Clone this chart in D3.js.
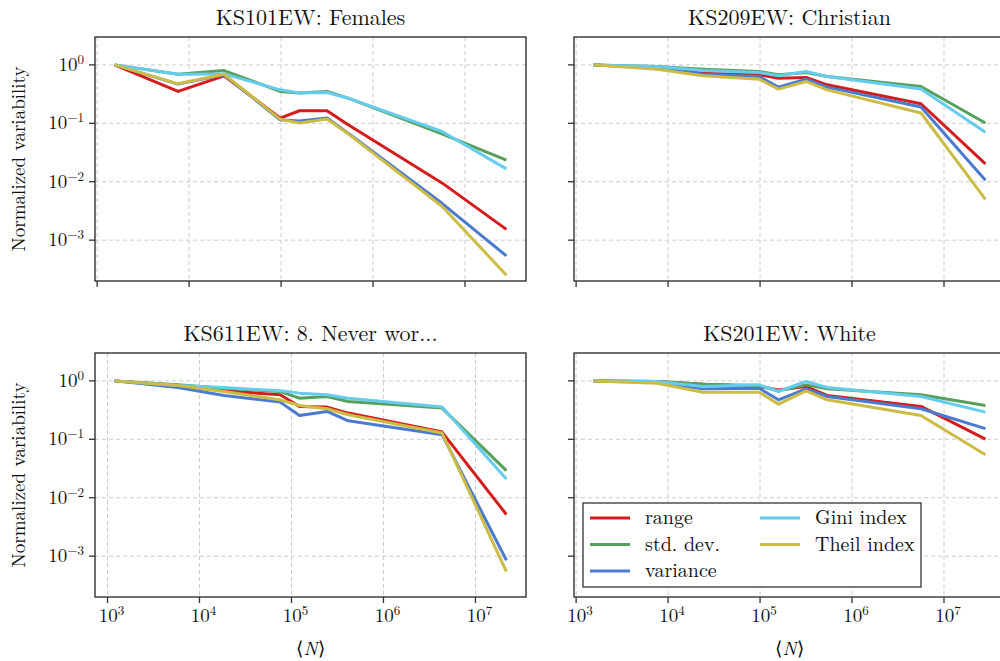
<!DOCTYPE html>
<html>
<head>
<meta charset="utf-8">
<script src="https://cdn.jsdelivr.net/npm/d3@7"></script>
<style>
    body { margin: 0; background: white; }
    text { font-family: "Latin Modern Roman", "CMU Serif", "Liberation Serif", serif; fill: #111; }
</style>
</head>
<body>
<svg id="chart" width="1000" height="661"></svg>
<script>
const SERIES = ["range", "std. dev.", "variance", "Gini index", "Theil index"];
const COLORS = ["#d41c1c", "#55a05a", "#4a7bd0", "#66ccee", "#ccbb44"];

// mean population per area at each aggregation level
const nAreas = [1549, 7586, 23988, 97724, 158489, 316228, 537032, 5.62e6, 2.82e7];
const nAreasKS611 = [1194, 5848, 18493, 75336, 122180, 243781, 414000, 4.34e6, 2.17e7];

const females = [
    [1, 0.351, 0.649, 0.123, 0.164, 0.164, 0.0946, 0.00955, 0.00153],
    [1, 0.692, 0.80, 0.351, 0.329, 0.351, 0.269, 0.066, 0.0234],
    [1, 0.468, 0.676, 0.115, 0.110, 0.123, 0.0676, 0.00427, 0.000537],
    [1, 0.692, 0.70, 0.374, 0.329, 0.337, 0.269, 0.0724, 0.0166],
    [1, 0.474, 0.692, 0.118, 0.101, 0.118, 0.066, 0.0038, 0.000251]
];
const christian = [
    [1, 0.90, 0.721, 0.675, 0.592, 0.608, 0.456, 0.216, 0.0202],
    [1, 0.938, 0.843, 0.769, 0.675, 0.740, 0.631, 0.427, 0.101],
    [1, 0.877, 0.693, 0.631, 0.416, 0.569, 0.416, 0.190, 0.0106],
    [1, 0.938, 0.80, 0.740, 0.649, 0.769, 0.631, 0.385, 0.070],
    [1, 0.843, 0.649, 0.569, 0.385, 0.520, 0.374, 0.150, 0.0050]
];
const neverWorked = [
    [1, 0.832, 0.675, 0.577, 0.365, 0.356, 0.281, 0.133, 0.00516],
    [1, 0.855, 0.75, 0.658, 0.506, 0.541, 0.444, 0.342, 0.0291],
    [1, 0.769, 0.562, 0.433, 0.256, 0.30, 0.207, 0.120, 0.00085],
    [1, 0.832, 0.769, 0.675, 0.617, 0.577, 0.506, 0.356, 0.021],
    [1, 0.832, 0.658, 0.474, 0.379, 0.333, 0.263, 0.128, 0.000543]
];
const white = [
    [1, 0.975, 0.877, 0.80, 0.701, 0.80, 0.562, 0.365, 0.101],
    [1, 0.975, 0.877, 0.832, 0.675, 0.855, 0.73, 0.577, 0.379],
    [1, 0.948, 0.73, 0.75, 0.474, 0.73, 0.541, 0.333, 0.152],
    [1, 0.975, 0.80, 0.855, 0.658, 0.975, 0.769, 0.541, 0.292],
    [1, 0.912, 0.641, 0.641, 0.40, 0.675, 0.474, 0.256, 0.0546]
];

const Y_LIMITS = [2e-4, 3];
const Y_TICKS = [1, 1e-1, 1e-2, 1e-3];
const X_TICKS = [1e3, 1e4, 1e5, 1e6, 1e7];

const panels = [
    { title: "KS101EW: Females", n: nAreas, values: females, x: 95, y: 37, left: true, bottom: false },
    { title: "KS209EW: Christian", n: nAreas, values: christian, x: 574, y: 37, left: false, bottom: false },
    { title: "KS611EW: 8. Never wor...", n: nAreasKS611, values: neverWorked, x: 95, y: 353, left: true, bottom: true },
    { title: "KS201EW: White", n: nAreas, values: white, x: 574, y: 353, left: false, bottom: true, legend: true }
];
const W = 431, H = 244;

const svg = d3.select("#chart");

function powerLabel(sel, exp) {
    sel.append("tspan").text("10");
    sel.append("tspan")
        .attr("font-size", "13px")
        .attr("dy", "-0.55em")
        .text(exp < 0 ? "\u2212" + (-exp) : exp);
}

function drawPanel(p) {
    let g = svg.append("g").attr("transform", `translate(${p.x},${p.y})`);

    // matplotlib-style 5% margin in log space
    let lx = d3.extent(p.n).map(Math.log10);
    let pad = (lx[1] - lx[0]) * 0.05;
    let x = d3.scaleLog()
        .domain([Math.pow(10, lx[0] - pad), Math.pow(10, lx[1] + pad)])
        .range([0, W]);
    let y = d3.scaleLog().domain(Y_LIMITS).range([H, 0]);
    let xTicks = X_TICKS.filter(t => t >= x.domain()[0] && t <= x.domain()[1]);

    let grid = g.append("g")
        .attr("stroke", "#cccccc")
        .attr("stroke-width", 1)
        .attr("stroke-dasharray", "4,3");
    grid.selectAll(".gx").data(xTicks)
        .enter().append("line")
            .attr("x1", d => x(d)).attr("x2", d => x(d))
            .attr("y1", 0).attr("y2", H);
    grid.selectAll(".gy").data(Y_TICKS)
        .enter().append("line")
            .attr("y1", d => y(d)).attr("y2", d => y(d))
            .attr("x1", 0).attr("x2", W);

    let line = d3.line()
        .x(d => x(d[0]))
        .y(d => y(d[1]));

    p.values.forEach((vals, i) => {
        g.append("path")
            .datum(vals.map((v, j) => [p.n[j], v]))
            .attr("fill", "none")
            .attr("stroke", COLORS[i])
            .attr("stroke-width", 3)
            .attr("stroke-linejoin", "round")
            .attr("d", line);
    });

    g.append("rect")
        .attr("width", W).attr("height", H)
        .attr("fill", "none")
        .attr("stroke", "#222")
        .attr("stroke-width", 1.3);

    g.selectAll(".xt").data(xTicks).enter().append("line")
        .attr("x1", d => x(d)).attr("x2", d => x(d))
        .attr("y1", H).attr("y2", H + 6)
        .attr("stroke", "#333").attr("stroke-width", 1.3);
    g.selectAll(".yt").data(Y_TICKS).enter().append("line")
        .attr("y1", d => y(d)).attr("y2", d => y(d))
        .attr("x1", 0).attr("x2", -6)
        .attr("stroke", "#333").attr("stroke-width", 1.3);

    if (p.bottom) {
        g.selectAll(".xl").data(xTicks).enter().append("text")
            .attr("x", d => x(d) + 4)
            .attr("y", H + 25)
            .attr("font-size", "19px")
            .attr("text-anchor", "middle")
            .each(function(d) { powerLabel(d3.select(this), Math.round(Math.log10(d))); });
        g.append("text")
            .attr("x", W / 2).attr("y", H + 58)
            .attr("font-size", "19px")
            .attr("text-anchor", "middle")
            .html("\u27E8<tspan font-style=\"italic\">N</tspan>\u27E9");
    }
    if (p.left) {
        g.selectAll(".yl").data(Y_TICKS).enter().append("text")
            .attr("x", -11)
            .attr("y", d => y(d) + 6)
            .attr("font-size", "19px")
            .attr("text-anchor", "end")
            .each(function(d) { powerLabel(d3.select(this), Math.round(Math.log10(d))); });
        g.append("text")
            .attr("transform", `translate(${-70},${H / 2}) rotate(-90)`)
            .attr("font-size", "19px")
            .attr("text-anchor", "middle")
            .text("Normalized variability");
    }

    g.append("text")
        .attr("x", W / 2).attr("y", -12)
        .attr("font-size", "22px")
        .attr("text-anchor", "middle")
        .text(p.title);

    if (p.legend) drawLegend(g);
}

function drawLegend(g) {
    let lg = g.append("g").attr("transform", "translate(9,150)");
    lg.append("rect")
        .attr("width", 338).attr("height", 84)
        .attr("fill", "white")
        .attr("stroke", "#222")
        .attr("stroke-width", 1.2);
    SERIES.forEach((name, i) => {
        let col = i < 3 ? 0 : 1;
        let row = i < 3 ? i : i - 3;
        let ex = col === 0 ? 7 : 177;
        let ey = 15 + row * 26.5;
        lg.append("line")
            .attr("x1", ex).attr("x2", ex + 40)
            .attr("y1", ey).attr("y2", ey)
            .attr("stroke", COLORS[i]).attr("stroke-width", 3);
        lg.append("text")
            .attr("x", ex + 55).attr("y", ey + 6)
            .attr("font-size", "20px")
            .text(name);
    });
}

panels.forEach(drawPanel);
</script>
</body>
</html>
